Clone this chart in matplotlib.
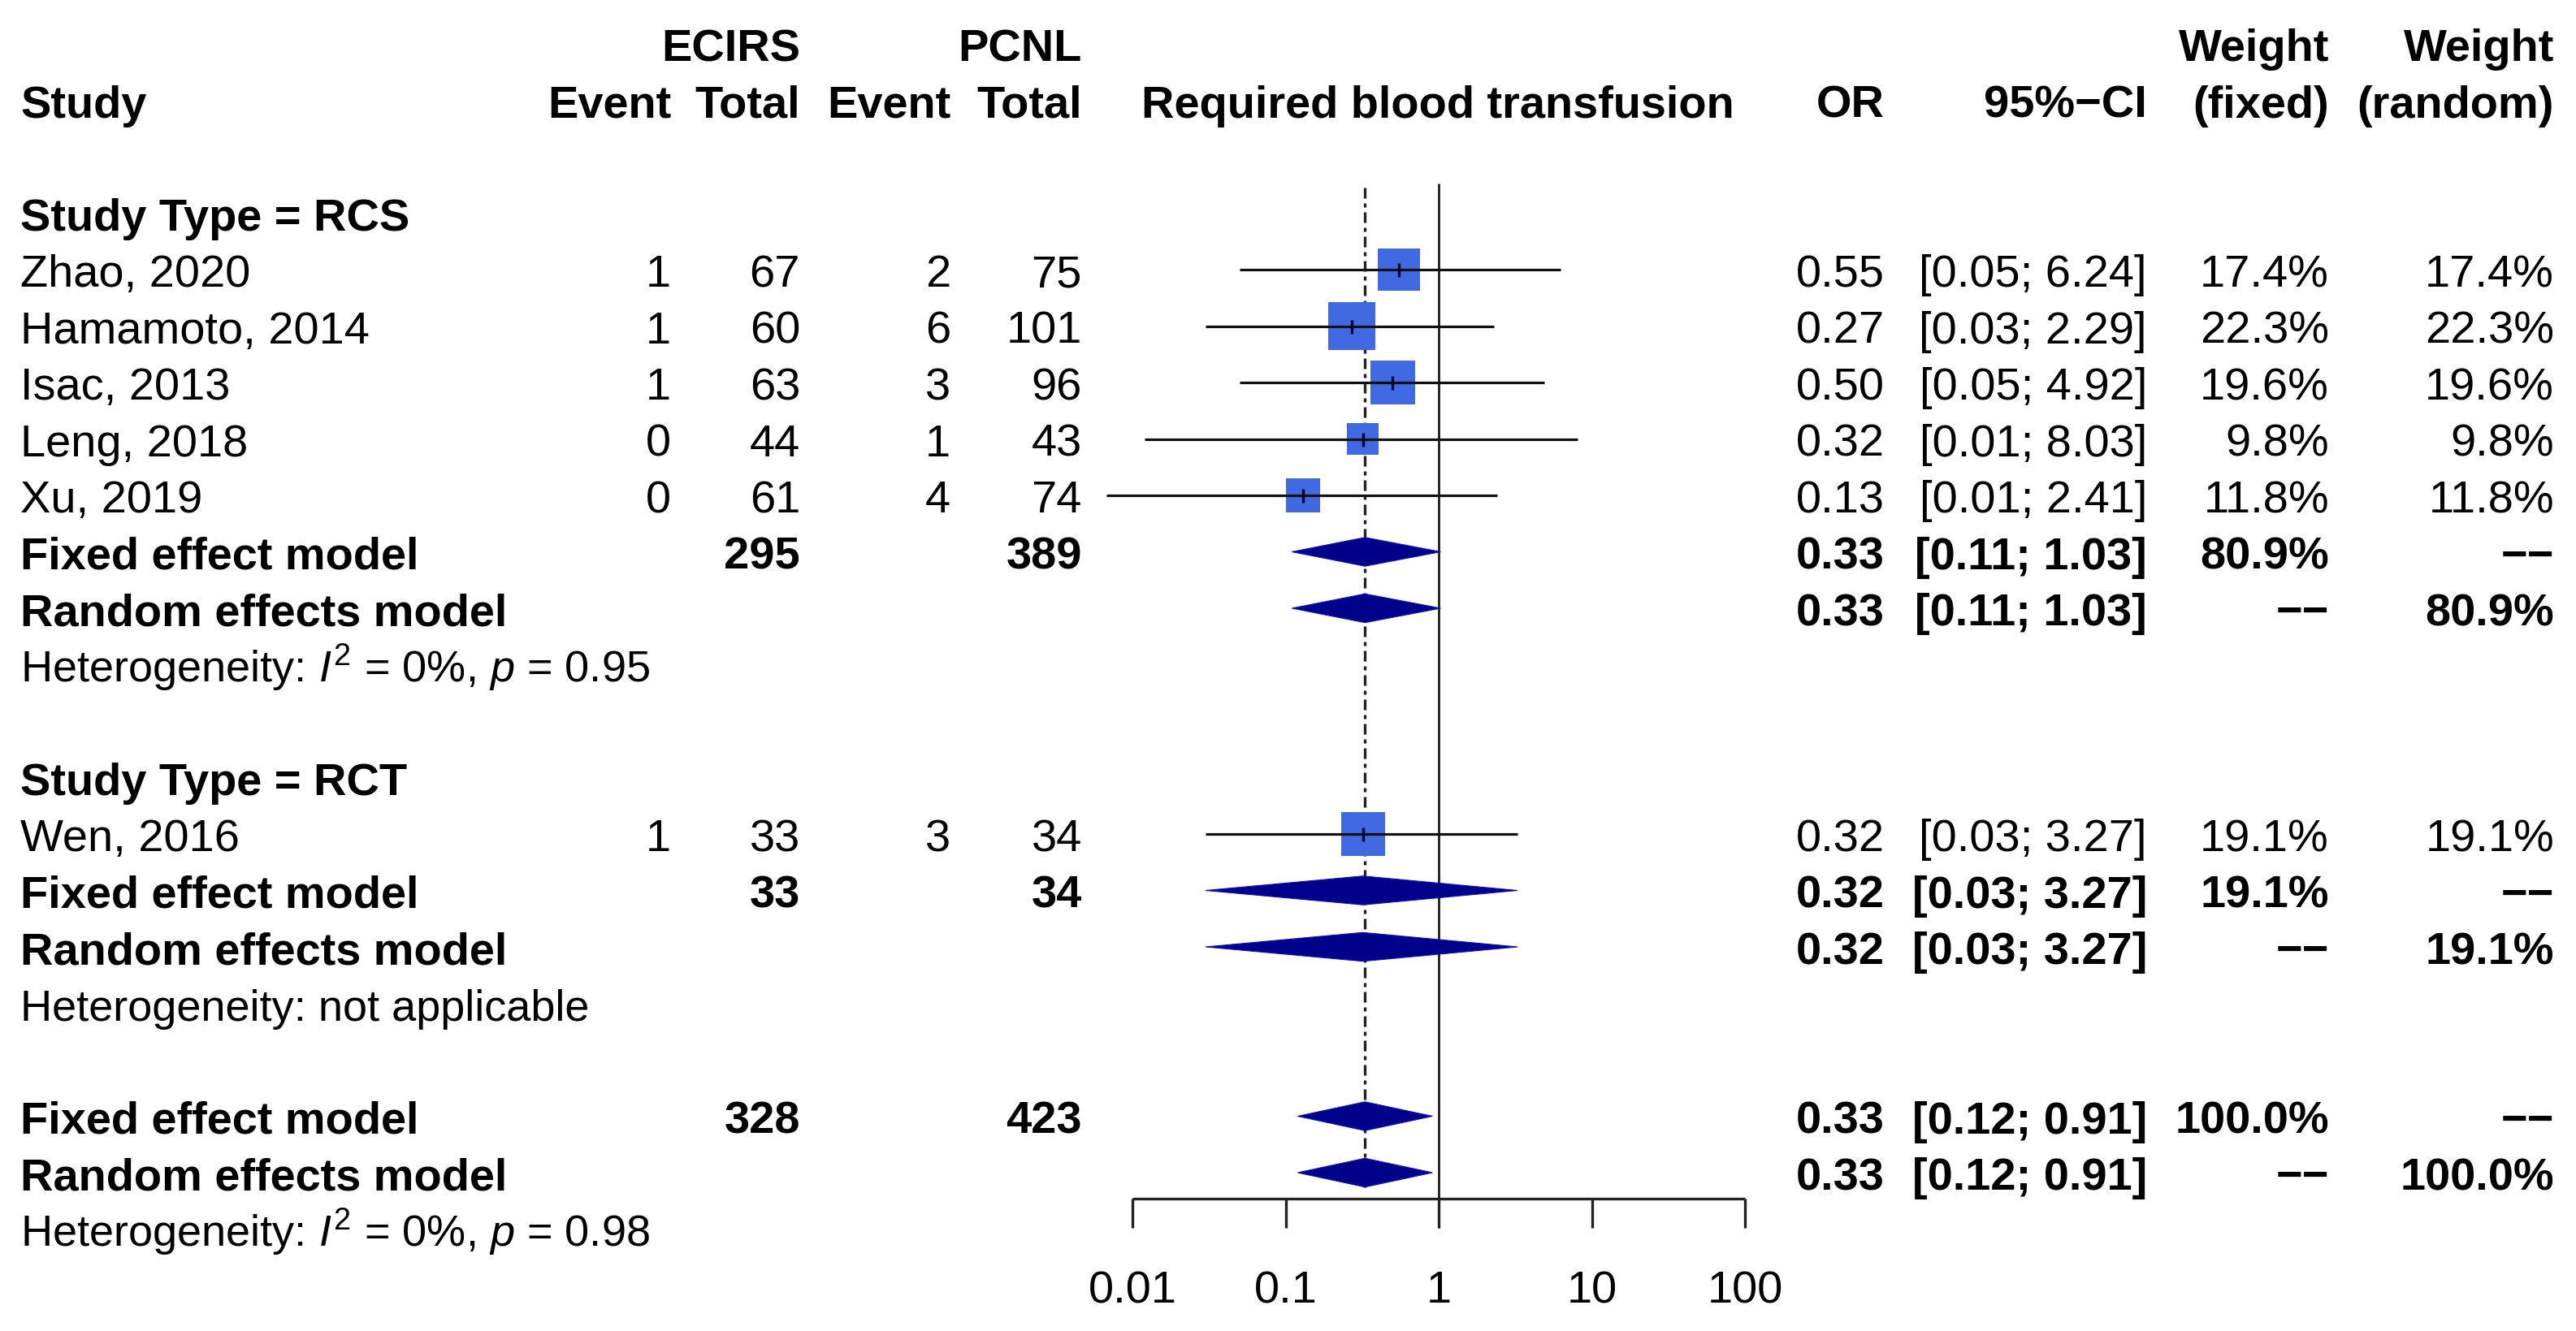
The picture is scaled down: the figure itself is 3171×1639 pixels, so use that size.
import matplotlib
matplotlib.use("Agg")
import matplotlib.pyplot as plt
import numpy as np

plt.rcParams['font.family'] = ['Liberation Sans', 'DejaVu Sans']
plt.rcParams['mathtext.fontset'] = 'custom'
plt.rcParams['mathtext.rm'] = 'Liberation Sans'
plt.rcParams['mathtext.it'] = 'Liberation Sans:italic'
plt.rcParams['mathtext.bf'] = 'Liberation Sans:bold'
plt.rcParams['lines.scale_dashes'] = False

# ---------------- data ----------------
studies = ["Zhao, 2020", "Hamamoto, 2014", "Isac, 2013", "Leng, 2018", "Xu, 2019", "Wen, 2016"]
study_group = ["RCS", "RCS", "RCS", "RCS", "RCS", "RCT"]
event_e = [1, 1, 1, 0, 0, 1]
total_e = [67, 60, 63, 44, 61, 33]
event_c = [2, 6, 3, 1, 4, 3]
total_c = [75, 101, 96, 43, 74, 34]
or_est = [0.55, 0.27, 0.50, 0.32, 0.13, 0.32]
ci_low = [0.05, 0.03, 0.05, 0.012, 0.0068, 0.03]
ci_high = [6.24, 2.29, 4.92, 8.03, 2.41, 3.27]
w_fixed = [17.4, 22.3, 19.6, 9.8, 11.8, 19.1]
w_random = [17.4, 22.3, 19.6, 9.8, 11.8, 19.1]

groups = ["RCS", "RCT"]
group_labels = ["Study Type = RCS", "Study Type = RCT"]
grp_total_e = [295, 33]
grp_total_c = [389, 34]
grp_or = [0.33, 0.32]
grp_low = [0.11, 0.03]
grp_high = [1.03, 3.27]
grp_weight = [80.9, 19.1]
grp_het = [r"Heterogeneity: $I^{2}$ = 0%, $p$ = 0.95", "Heterogeneity: not applicable"]

overall_total_e = 328
overall_total_c = 423
overall_or = 0.33
overall_low = 0.12
overall_high = 0.91
overall_weight = 100.0
overall_het = r"Heterogeneity: $I^{2}$ = 0%, $p$ = 0.98"

axis_ticks = [0.01, 0.1, 1, 10, 100]
axis_ticklabels = ["0.01", "0.1", "1", "10", "100"]

# ---------------- layout ----------------
W, H = 3171, 1640
fig = plt.figure(figsize=(W / 100, H / 100), dpi=100)
ax = fig.add_axes([0, 0, 1, 1])
ax.set_xscale('log')
X1, DEC = 1771.0, 188.5
ax.set_xlim(10 ** (-X1 / DEC), 10 ** ((W - X1) / DEC))
Y0, DY = 55.0, 69.5
ax.set_ylim((H - Y0) / DY, -Y0 / DY)
ax.axis('off')

tr = ax.get_yaxis_transform()
FS = 40.3
BASE = 0.29

X_STUDY = 25
X_EV_E, X_TOT_E, X_EV_C, X_TOT_C = 826, 985, 1170, 1332
X_OR, X_CI, X_WF, X_WR = 2320, 2643, 2867, 3144
X_PLOT_CENTER = 1770
DASH = "\u2212\u2212"


def txt(xpx, row, s, ha='left', bold=False, size=FS):
    ax.text(xpx / W, row + BASE, s, transform=tr, ha=ha, va='baseline',
            fontsize=size, fontweight='bold' if bold else 'normal', color='black')


def fmt_ci(lo, hi):
    return f"[{lo:.2f}; {hi:.2f}]"


# headers
txt(X_TOT_E, 0, "ECIRS", 'right', True)
txt(X_TOT_C, 0, "PCNL", 'right', True)
txt(X_WF, 0, "Weight", 'right', True)
txt(X_WR, 0, "Weight", 'right', True)
txt(X_STUDY, 1, "Study", 'left', True)
txt(X_EV_E, 1, "Event", 'right', True)
txt(X_TOT_E, 1, "Total", 'right', True)
txt(X_EV_C, 1, "Event", 'right', True)
txt(X_TOT_C, 1, "Total", 'right', True)
txt(X_PLOT_CENTER, 1, "Required blood transfusion", 'center', True)
txt(X_OR, 1, "OR", 'right', True)
txt(X_CI, 1, "95%\u2212CI", 'right', True)
txt(X_WF, 1, "(fixed)", 'right', True)
txt(X_WR, 1, "(random)", 'right', True)

SQ_K = 12.4     # px per sqrt(weight)
DIA_H = 0.255   # diamond half height in rows
SQ_COL = '#4169E1'
DIA_COL = '#00008B'

row = 3
study_rows = []
diamond_rows = []
for gi, g in enumerate(groups):
    txt(X_STUDY, row, group_labels[gi], 'left', True)
    row += 1
    for i, s in enumerate(studies):
        if study_group[i] != g:
            continue
        txt(X_STUDY, row, s)
        txt(X_EV_E, row, str(event_e[i]), 'right')
        txt(X_TOT_E, row, str(total_e[i]), 'right')
        txt(X_EV_C, row, str(event_c[i]), 'right')
        txt(X_TOT_C, row, str(total_c[i]), 'right')
        txt(X_OR, row, f"{or_est[i]:.2f}", 'right')
        txt(X_CI, row, fmt_ci(ci_low[i], ci_high[i]), 'right')
        txt(X_WF, row, f"{w_fixed[i]:.1f}%", 'right')
        txt(X_WR, row, f"{w_random[i]:.1f}%", 'right')
        study_rows.append((i, row))
        row += 1
    # fixed
    txt(X_STUDY, row, "Fixed effect model", 'left', True)
    txt(X_TOT_E, row, str(grp_total_e[gi]), 'right', True)
    txt(X_TOT_C, row, str(grp_total_c[gi]), 'right', True)
    txt(X_OR, row, f"{grp_or[gi]:.2f}", 'right', True)
    txt(X_CI, row, fmt_ci(grp_low[gi], grp_high[gi]), 'right', True)
    txt(X_WF, row, f"{grp_weight[gi]:.1f}%", 'right', True)
    txt(X_WR, row, DASH, 'right', True)
    diamond_rows.append((grp_or[gi], grp_low[gi], grp_high[gi], row))
    row += 1
    txt(X_STUDY, row, "Random effects model", 'left', True)
    txt(X_OR, row, f"{grp_or[gi]:.2f}", 'right', True)
    txt(X_CI, row, fmt_ci(grp_low[gi], grp_high[gi]), 'right', True)
    txt(X_WF, row, DASH, 'right', True)
    txt(X_WR, row, f"{grp_weight[gi]:.1f}%", 'right', True)
    diamond_rows.append((grp_or[gi], grp_low[gi], grp_high[gi], row))
    row += 1
    txt(X_STUDY, row, grp_het[gi], 'left', False, 39)
    row += 2

# overall
txt(X_STUDY, row, "Fixed effect model", 'left', True)
txt(X_TOT_E, row, str(overall_total_e), 'right', True)
txt(X_TOT_C, row, str(overall_total_c), 'right', True)
txt(X_OR, row, f"{overall_or:.2f}", 'right', True)
txt(X_CI, row, fmt_ci(overall_low, overall_high), 'right', True)
txt(X_WF, row, f"{overall_weight:.1f}%", 'right', True)
txt(X_WR, row, DASH, 'right', True)
diamond_rows.append((overall_or, overall_low, overall_high, row))
row += 1
txt(X_STUDY, row, "Random effects model", 'left', True)
txt(X_OR, row, f"{overall_or:.2f}", 'right', True)
txt(X_CI, row, fmt_ci(overall_low, overall_high), 'right', True)
txt(X_WF, row, DASH, 'right', True)
txt(X_WR, row, f"{overall_weight:.1f}%", 'right', True)
diamond_rows.append((overall_or, overall_low, overall_high, row))
last_row = row
row += 1
txt(X_STUDY, row, overall_het, 'left', False, 39)

# ---------------- marks ----------------
idx = [i for i, r in study_rows]
rws = [r for i, r in study_rows]
est = np.array([or_est[i] for i in idx])
side_pt = np.array([SQ_K * np.sqrt(w_fixed[i]) * 0.72 for i in idx])
ax.scatter(est, rws, marker='s', s=side_pt ** 2, color=SQ_COL, linewidths=0, zorder=2)
ax.hlines(rws, [ci_low[i] for i in idx], [ci_high[i] for i in idx],
          color='#111111', lw=2.3, zorder=3)
ax.scatter(est, rws, marker='|', s=(17 * 0.72) ** 2, color='#000030', linewidths=2.4, zorder=4)

for e, lo, hi, r in diamond_rows:
    ax.fill([lo, e, hi, e], [r, r - DIA_H, r, r + DIA_H], color=DIA_COL,
            lw=0.8, edgecolor='#1010c0', zorder=3)

axis_row = last_row + (1477 - (Y0 + DY * last_row)) / DY
tick_end = axis_row + 36 / DY
line_top = (227 - Y0) / DY

# reference lines
ax.vlines(1, line_top, tick_end, color='#111111', lw=1.9, zorder=1)
ax.vlines(overall_or, line_top + 0.07, last_row + DIA_H, color='#222222', lw=2.4,
          linestyles=[(0, (9.4, 4.3, 3.6, 4.3))], zorder=1)

# x axis
ax.hlines(axis_row, axis_ticks[0], axis_ticks[-1], color='#222222', lw=2.4)
ax.vlines(axis_ticks, axis_row, tick_end, color='#222222', lw=2.4)
for t, lab in zip(axis_ticks, axis_ticklabels):
    ax.text(t, last_row + 2 + BASE, lab, ha='center', va='baseline', fontsize=FS)

fig.savefig("out.png", dpi=100)
